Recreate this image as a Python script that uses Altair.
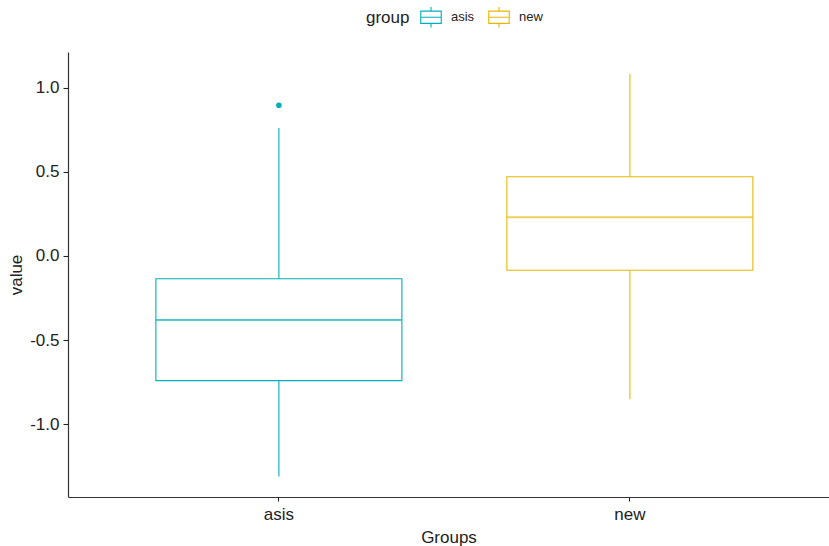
import altair as alt
import pandas as pd

groups = ["asis", "new"]
lower = [-1.31, -0.85]
q1 = [-0.74, -0.085]
median = [-0.38, 0.23]
q3 = [-0.135, 0.47]
upper = [0.76, 1.08]
out_group = ["asis"]
out_value = [0.895]
colors = ["#00AFBB", "#E7B800"]
y_ticks = [-1.0, -0.5, 0.0, 0.5, 1.0]

stats = pd.DataFrame({"group": groups, "lower": lower, "q1": q1, "median": median,
                      "q3": q3, "upper": upper})
outs = pd.DataFrame({"group": out_group, "value": out_value})

FONT = "Liberation Sans"
xscale = alt.Scale(domain=groups, paddingInner=0, paddingOuter=0.084, align=0.6)
yscale = alt.Scale(domain=[-1.431, 1.211], nice=False, zero=False)
cscale = alt.Scale(domain=groups, range=colors)

legend_path = "M-1,-0.6H1V0.6H-1Z M-1,0H1 M0,-0.6V-1 M0,0.6V1"
legend = alt.Legend(orient="none", legendX=298, legendY=-46,
                    direction="horizontal", title="group",
                    titleOrient="left", titleFontSize=17,
                    titleFont=FONT, titleFontWeight="normal",
                    titleColor="#222", titlePadding=10,
                    labelFont=FONT, labelFontSize=13,
                    labelColor="#222", labelOffset=9,
                    columnPadding=11, symbolType=legend_path,
                    symbolSize=420, symbolStrokeWidth=1.1,
                    symbolFillColor="white", symbolOpacity=1)
color_enc = alt.Color("group:N", scale=cscale, legend=legend)

x_enc = alt.X("group:N", scale=xscale, title="Groups",
              axis=alt.Axis(labelAngle=0, labelFontSize=17, titleFontSize=17,
                            labelPadding=5, titlePadding=7, tickSize=4))
y_axis = alt.Axis(values=y_ticks, labelExpr="replace(format(datum.value, '.1f'), '\u2212', '-')",
                  labelFontSize=17, titleFontSize=17, tickSize=5, labelPadding=4,
                  titlePadding=4, grid=False)

base = alt.Chart(stats)

whisk_lo = base.mark_rule(strokeWidth=1.1).encode(
    x=x_enc,
    y=alt.Y("lower:Q", scale=yscale, title="value", axis=y_axis),
    y2="q1:Q",
    color=color_enc,
)
whisk_hi = base.mark_rule(strokeWidth=1.1).encode(
    x=x_enc,
    y=alt.Y("q3:Q", scale=yscale),
    y2="upper:Q",
    color=color_enc,
)

box = base.mark_bar(size=246, filled=False, strokeWidth=1.1).encode(
    x=x_enc,
    y=alt.Y("q1:Q", scale=yscale),
    y2="q3:Q",
    color=color_enc,
)

med = base.mark_tick(size=245, thickness=0.9, filled=False, strokeWidth=1).encode(
    x=x_enc,
    y=alt.Y("median:Q", scale=yscale),
    color=color_enc,
)

pts = alt.Chart(outs).mark_point(filled=False, size=7, strokeWidth=3, opacity=1).encode(
    x=x_enc,
    y=alt.Y("value:Q", scale=yscale),
    color=color_enc,
)

chart = alt.layer(whisk_lo, whisk_hi, box, med, pts).properties(
    width=761, height=445,
    autosize=alt.AutoSizeParams(type="none"),
    padding={"left": 68, "top": 52, "right": 0, "bottom": 49},
).configure_view(stroke=None).configure_axis(
    labelFont=FONT, titleFont=FONT, labelColor="#222", titleColor="#222",
    titleFontWeight="normal", domainColor="#333", domainWidth=1.2,
    tickColor="#222", tickWidth=1.1,
)

chart.save("out.html", embed_options={"renderer": "svg", "actions": False})
